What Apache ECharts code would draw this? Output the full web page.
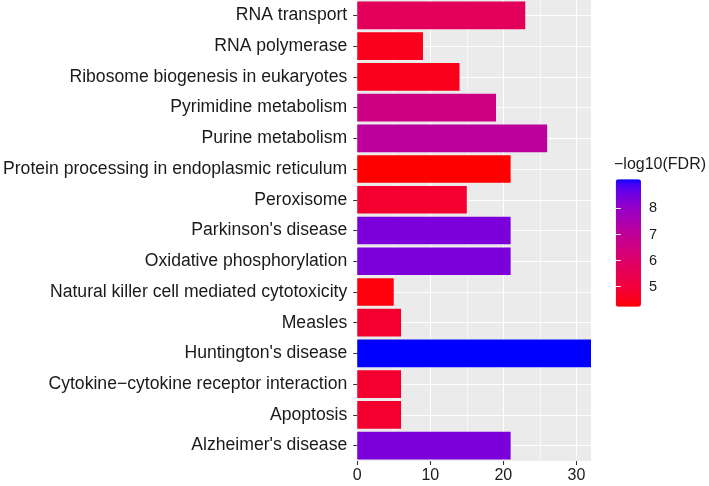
<!DOCTYPE html>
<html>
<head>
<meta charset="utf-8">
<script src="https://cdn.jsdelivr.net/npm/echarts@6/dist/echarts.min.js"></script>
<style>
html,body{margin:0;padding:0;background:#fff;}
#chart{width:709px;height:486px;}
</style>
</head>
<body>
<div id="chart"></div>
<script>
// ---- data (top to bottom as shown) ----
const categories = [
  "RNA transport",
  "RNA polymerase",
  "Ribosome biogenesis in eukaryotes",
  "Pyrimidine metabolism",
  "Purine metabolism",
  "Protein processing in endoplasmic reticulum",
  "Peroxisome",
  "Parkinson's disease",
  "Oxidative phosphorylation",
  "Natural killer cell mediated cytotoxicity",
  "Measles",
  "Huntington's disease",
  "Cytokine\u2212cytokine receptor interaction",
  "Apoptosis",
  "Alzheimer's disease"
];
const geneCounts = [23, 9, 14, 19, 26, 21, 15, 21, 21, 5, 6, 32, 6, 6, 21];
const negLog10FDR = [5.70, 4.52, 4.52, 6.53, 7.07, 4.23, 4.82, 8.39, 8.39, 4.33, 4.82, 9.12, 4.82, 4.82, 8.39];
const xTickValues = [0, 10, 20, 30];
const legendTickValues = [5, 6, 7, 8];
const legendTitle = "\u2212log10(FDR)";

// ---- colour gradient red -> blue interpolated in CIELAB (like ggplot) ----
function hexToLab(hex){
  const c=[1,3,5].map(i=>parseInt(hex.substr(i,2),16)/255)
    .map(v=>v<=0.04045?v/12.92:Math.pow((v+0.055)/1.055,2.4));
  const X=(0.4124*c[0]+0.3576*c[1]+0.1805*c[2])/0.95047;
  const Y=(0.2126*c[0]+0.7152*c[1]+0.0722*c[2]);
  const Z=(0.0193*c[0]+0.1192*c[1]+0.9505*c[2])/1.08883;
  const f=t=>t>0.008856?Math.cbrt(t):(7.787*t+16/116);
  const fx=f(X),fy=f(Y),fz=f(Z);
  return [116*fy-16,500*(fx-fy),200*(fy-fz)];
}
function labToHex(L,a,b){
  const fy=(L+16)/116, fx=fy+a/500, fz=fy-b/200;
  const g=t=>t*t*t>0.008856?t*t*t:(t-16/116)/7.787;
  const X=g(fx)*0.95047, Y=g(fy), Z=g(fz)*1.08883;
  let r=3.2406*X-1.5372*Y-0.4986*Z;
  let gg=-0.9689*X+1.8758*Y+0.0415*Z;
  let bb=0.0557*X-0.2040*Y+1.0570*Z;
  const s=v=>{v=Math.max(0,Math.min(1,v));v=v<=0.0031308?12.92*v:1.055*Math.pow(v,1/2.4)-0.055;
    return Math.round(v*255).toString(16).padStart(2,'0');};
  return '#'+s(r)+s(gg)+s(bb);
}
const lowLab=hexToLab('#FF0000'), highLab=hexToLab('#0000FF');
const gradientStops=[];
for(let i=0;i<=40;i++){
  const t=i/40;
  gradientStops.push(labToHex(
    lowLab[0]+(highLab[0]-lowLab[0])*t,
    lowLab[1]+(highLab[1]-lowLab[1])*t,
    lowLab[2]+(highLab[2]-lowLab[2])*t));
}

const fdrMin=Math.min(...negLog10FDR), fdrMax=Math.max(...negLog10FDR);
const barData=categories.map((c,i)=>[geneCounts[i], c, negLog10FDR[i]]);

const txt='#1A1A1A';
const ff='Liberation Sans, Arial, sans-serif';
const chart=echarts.init(document.getElementById('chart'),null,{renderer:'canvas'});
chart.setOption({
  animation:false,
  textStyle:{fontFamily:ff},
  grid:[
    {left:357, right:118, top:0, bottom:25, show:true, backgroundColor:'#EBEBEB', borderWidth:0},
    {left:615.7, top:179.3, width:25.3, height:127.4, show:false}
  ],
  xAxis:[
    {gridIndex:0, type:'value', min:0, max:32, interval:10,
     axisLine:{show:false},
     axisTick:{show:true, customValues:xTickValues, length:4, lineStyle:{color:'#333333', width:1.07}},
     axisLabel:{customValues:xTickValues, fontSize:16, color:txt, margin:7},
     splitLine:{show:true, lineStyle:{color:'#FFFFFF', width:1.1}}},
    {gridIndex:0, type:'value', min:0, max:32, interval:5, position:'top',
     axisLine:{show:false}, axisTick:{show:false}, axisLabel:{show:false},
     splitLine:{show:true, lineStyle:{color:'#FFFFFF', width:0.55}}},
    {gridIndex:1, type:'value', min:0, max:1, show:false}
  ],
  yAxis:[
    {gridIndex:0, type:'category', data:categories, inverse:true,
     axisLine:{show:false},
     axisTick:{show:true, alignWithLabel:true, length:4, lineStyle:{color:'#333333', width:1.07}},
     axisLabel:{fontSize:17.6, color:txt, margin:10},
     splitLine:{show:false}},
    {gridIndex:1, type:'value', min:fdrMin, max:fdrMax, position:'right', z:10,
     axisLine:{show:false},
     axisTick:{show:true, inside:true, length:5, customValues:legendTickValues, lineStyle:{color:'#FFFFFF', width:1}},
     axisLabel:{customValues:legendTickValues, fontSize:14.5, color:txt, margin:8},
     splitLine:{show:false}},
    {gridIndex:1, type:'value', min:fdrMin, max:fdrMax, position:'left', z:10,
     axisLine:{show:false},
     axisTick:{show:true, inside:true, length:5, customValues:legendTickValues, lineStyle:{color:'#FFFFFF', width:1}},
     axisLabel:{show:false},
     splitLine:{show:false}}
  ],
  visualMap:{
    type:'continuous', min:fdrMin, max:fdrMax, dimension:2, seriesIndex:0,
    inRange:{color:gradientStops}, orient:'vertical',
    left:615.7, top:179.3, itemWidth:25.3, itemHeight:127.4, padding:0,
    calculable:false, realtime:false, text:['',''], showLabel:false
  },
  graphic:[
    {type:'text', left:614, top:157, style:{text:legendTitle, fontSize:16, fill:txt, fontFamily:ff}}
  ],
  series:[
    {type:'bar', xAxisIndex:0, yAxisIndex:0, data:barData, encode:{x:0, y:1},
     barCategoryGap:'10%', z:3},
    {type:'scatter', xAxisIndex:0, yAxisIndex:0, data:[], z:1,
     markLine:{silent:true, z:1, symbol:['none','none'], label:{show:false},
       lineStyle:{color:'#FFFFFF', width:1.1, type:'solid'},
       data:categories.map(c=>({yAxis:c}))}}
  ]
});
</script>
</body>
</html>
